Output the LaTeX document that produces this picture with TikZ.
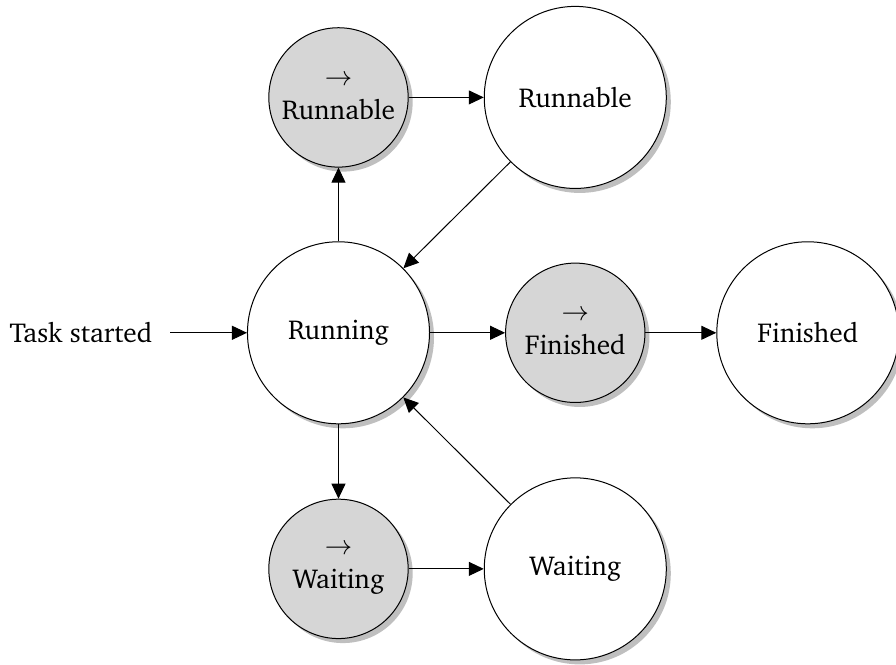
\documentclass[tikz,border=0pt,11pt]{standalone}
\usepackage[T1]{fontenc}
\renewcommand{\rmdefault}{bch}
\usepackage{tikz}
\usetikzlibrary{arrows.meta,shadows}
\usepackage{xcolor}

\begin{document}
\begin{tikzpicture}[
		state/.style={circle, draw, thin, fill=white, minimum size=2.56cm, inner sep=0pt,
			drop shadow={shadow xshift=1.8pt, shadow yshift=-1.8pt, fill=black!25, opacity=1}},
		trans/.style={state, fill=black!16, minimum size=1.96cm, align=center},
		go/.style={-{Triangle[length=6pt,width=5.6pt]}, thin}]
			\useasboundingbox (0,0) rectangle (12.6,9.35);
			\def\xa{4.76};
			\def\xb{8.09};
			\def\xc{11.36};
			\node[inner sep=7pt] (start) at (1.14,4.67) {Task started};
			\node[state] (running) at (\xa,4.67) {Running};
			\node[trans] (torunnable) at (\xa,7.98) {$\rightarrow$\\Runnable};
			\node[state] (runnable) at (\xb,7.98) {Runnable};
			\node[trans] (tofinished) at (\xb,4.67) {$\rightarrow$\\Finished};
			\node[state] (finished) at (\xc,4.67) {Finished};
			\node[trans] (towaiting) at (\xa,1.35) {$\rightarrow$\\Waiting};
			\node[state] (waiting) at (\xb,1.35) {Waiting};
			\draw[go] (start) -- (running);
			\draw[go] (running) -- (torunnable);
			\draw[go] (torunnable) -- (runnable);
			\draw[go] (runnable) -- (running);
			\draw[go] (running) -- (tofinished);
			\draw[go] (tofinished) -- (finished);
			\draw[go] (running) -- (towaiting);
			\draw[go] (towaiting) -- (waiting);
			\draw[go] (waiting) -- (running);
\end{tikzpicture}
\end{document}
